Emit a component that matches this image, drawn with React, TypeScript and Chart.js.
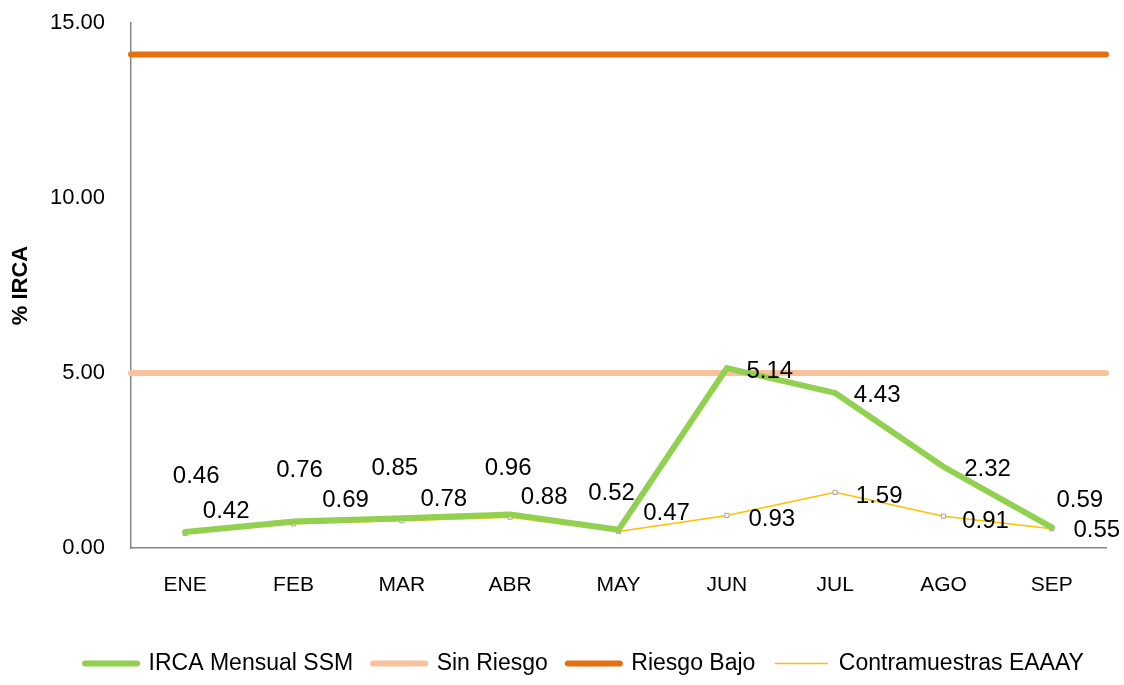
import { useEffect, useRef } from "react";
import { Chart, registerables } from "chart.js";

Chart.register(...registerables);

const categories = ["ENE", "FEB", "MAR", "ABR", "MAY", "JUN", "JUL", "AGO", "SEP"];
const ircaMensualSSM = [0.46, 0.76, 0.85, 0.96, 0.52, 5.14, 4.43, 2.32, 0.59];
const contramuestrasEAAAY = [0.42, 0.69, 0.78, 0.88, 0.47, 0.93, 1.59, 0.91, 0.55];
const sinRiesgo = [5, 5, 5, 5, 5, 5, 5, 5, 5];
const riesgoBajo = [14.1, 14.1, 14.1, 14.1, 14.1, 14.1, 14.1, 14.1, 14.1];
const yTicks = [0, 5, 10, 15];

// label placement offsets (styling, px from the point)
const ircaLabelOffsets = [[11, -56], [6, -51], [-7, -50], [-2, -46], [-7, -36], [43, 3], [42, 2], [44, 3], [28, -27]];
const contraLabelOffsets = [[41, -22], [52, -23], [42, -21], [34, -20], [48, -18], [45, 4], [44, 4], [42, 5], [45, 2]];

const FONT = "'Liberation Sans', Arial, sans-serif";

const valueLabels = {
  id: "valueLabels",
  afterDatasetsDraw(chart: any) {
    const ctx = chart.ctx;
    ctx.save();
    ctx.font = `24px ${FONT}`;
    ctx.fillStyle = "#000000";
    ctx.textAlign = "center";
    ctx.textBaseline = "middle";
    const specs = [
      { index: 0, offsets: ircaLabelOffsets },
      { index: 3, offsets: contraLabelOffsets },
    ];
    specs.forEach((s) => {
      const meta = chart.getDatasetMeta(s.index);
      const data = chart.data.datasets[s.index].data as number[];
      meta.data.forEach((el: any, i: number) => {
        ctx.fillText(Number(data[i]).toFixed(2), el.x + s.offsets[i][0], el.y + s.offsets[i][1]);
      });
    });
    ctx.restore();
  },
};

export default function App() {
  const ref = useRef<HTMLCanvasElement | null>(null);

  useEffect(() => {
    if (!ref.current) return;
    const chart = new Chart(ref.current, {
      type: "line",
      data: {
        labels: categories,
        datasets: [
          {
            label: "IRCA Mensual SSM",
            data: ircaMensualSSM,
            borderColor: "#92D050",
            backgroundColor: "#92D050",
            borderWidth: 6,
            borderCapStyle: "round",
            pointRadius: 0,
            tension: 0,
            xAxisID: "x",
            yAxisID: "y",
          },
          {
            label: "Sin Riesgo",
            data: sinRiesgo,
            borderColor: "#F8C29C",
            backgroundColor: "#F8C29C",
            borderWidth: 6,
            borderCapStyle: "round",
            pointRadius: 0,
            xAxisID: "x2",
            yAxisID: "y",
          },
          {
            label: "Riesgo Bajo",
            data: riesgoBajo,
            borderColor: "#E4700E",
            backgroundColor: "#E4700E",
            borderWidth: 6,
            borderCapStyle: "round",
            pointRadius: 0,
            xAxisID: "x2",
            yAxisID: "y",
          },
          {
            label: "Contramuestras EAAAY",
            data: contramuestrasEAAAY,
            borderColor: "#FFC000",
            backgroundColor: "#F4F4F4",
            borderWidth: 1.5,
            pointRadius: 3,
            pointStyle: "rect",
            pointBorderColor: "#A8A8A8",
            pointBackgroundColor: "#F4F4F4",
            pointBorderWidth: 1,
            xAxisID: "x",
            yAxisID: "y",
          },
        ],
      },
      options: {
        animation: false,
        responsive: true,
        maintainAspectRatio: false,
        layout: { padding: { top: 23, right: 0, left: 45, bottom: 0 } },
        font: { family: FONT },
        scales: {
          x: {
            type: "category",
            offset: true,
            grid: { display: false, drawTicks: true, tickLength: 25 },
            border: { display: true, color: "#868686", width: 1.5 },
            ticks: { color: "#000", font: { size: 21, family: FONT }, padding: 0, maxRotation: 0 },
            afterFit: (s: any) => {
              s.height = 84;
            },
          },
          x2: {
            type: "category",
            labels: categories,
            offset: false,
            display: false,
          },
          y: {
            position: "left",
            min: 0,
            max: 15,
            grid: { display: false, drawTicks: true, tickLength: 26 },
            border: { display: true, color: "#868686", width: 1.5 },
            afterBuildTicks: (s: any) => {
              s.ticks = yTicks.map((v) => ({ value: v }));
            },
            ticks: {
              color: "#000",
              font: { size: 22, family: FONT },
              padding: 0,
              callback: (v: any) => Number(v).toFixed(2),
            },
            title: {
              display: true,
              text: "% IRCA",
              color: "#000",
              font: { size: 22, weight: "bold", family: FONT },
              padding: { top: -37, bottom: 0 },
            },
            afterFit: (s: any) => {
              s.width = 86;
            },
          },
          yRight: {
            position: "right",
            display: true,
            grid: { display: false, drawTicks: false },
            border: { display: false },
            ticks: { display: false },
            afterFit: (s: any) => {
              s.width = 18;
            },
          },
        },
        plugins: {
          legend: {
            position: "bottom",
            maxHeight: 53,
            labels: {
              color: "#000",
              font: { size: 23, family: FONT },
              usePointStyle: true,
              pointStyle: "line",
              pointStyleWidth: 52,
              padding: 20,
              generateLabels: (c: any) => {
                const items = Chart.defaults.plugins.legend.labels.generateLabels(c);
                return items.map((it: any) => {
                  const ds: any = c.data.datasets[it.datasetIndex];
                  return { ...it, strokeStyle: ds.borderColor, lineWidth: ds.borderWidth, lineCap: "round" };
                });
              },
            },
          },
          tooltip: { enabled: false },
        },
      } as any,
      plugins: [valueLabels],
    });
    return () => chart.destroy();
  }, []);

  return (
    <div style={{ position: "fixed", left: 0, top: 0, width: 1124, height: 685, background: "#fff" }}>
      <canvas ref={ref} />
    </div>
  );
}
